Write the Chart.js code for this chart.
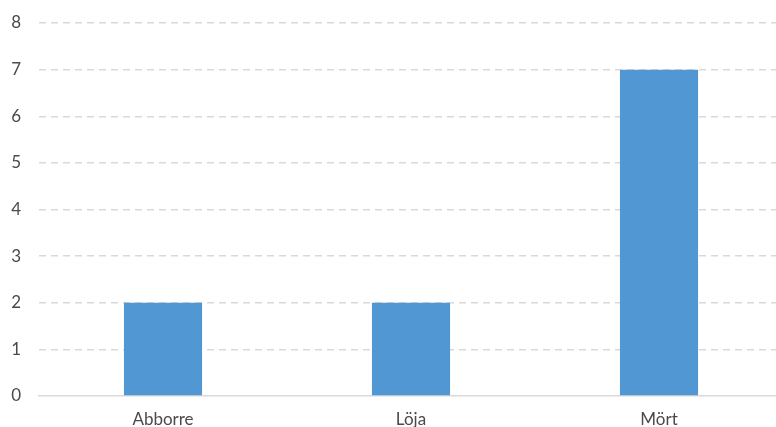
<!DOCTYPE html>
<html>
<head>
<meta charset="utf-8">
<script src="https://cdn.jsdelivr.net/npm/chart.js@4/dist/chart.umd.min.js"></script>
<style>
  html, body { margin: 0; padding: 0; background: #fff; overflow: hidden; }
  #wrap { width: 776px; height: 427px; overflow: hidden; }
</style>
</head>
<body>
<div id="wrap"><canvas id="c" width="787" height="427"></canvas></div>
<script>
const categories = ['Abborre', 'Löja', 'Mört'];
const counts = [2, 2, 7];
const yTicks = [0, 1, 2, 3, 4, 5, 6, 7, 8];

const textColor = '#4a4a4a';
const gridColor = '#d9d9d9';
const labelFont = { family: "Lato, 'Open Sans', sans-serif", size: 17 };

new Chart(document.getElementById('c'), {
  type: 'bar',
  data: {
    labels: categories,
    datasets: [{
      data: counts,
      backgroundColor: '#5197d3',
      borderWidth: 0,
      categoryPercentage: 1,
      barPercentage: 0.315
    }]
  },
  options: {
    responsive: false,
    maintainAspectRatio: false,
    animation: false,
    layout: { padding: { left: 10, right: 4, top: 0, bottom: 0 } },
    plugins: { legend: { display: false }, tooltip: { enabled: false } },
    scales: {
      x: {
        afterFit: (axis) => { axis.height = 31; },
        grid: { display: false, drawTicks: false },
        border: { display: true, color: gridColor, width: 1.5 },
        ticks: { color: textColor, font: labelFont, padding: 13 }
      },
      y: {
        min: 0,
        max: 8,
        afterBuildTicks: (axis) => { axis.ticks = yTicks.map(v => ({ value: v })); },
        afterFit: (axis) => { axis.width = 29; axis.paddingTop = 23; axis.paddingBottom = 0; },
        grid: {
          drawTicks: false,
          lineWidth: 1.5,
          color: (ctx) => (ctx.tick && ctx.tick.value === 0) ? 'rgba(0,0,0,0)' : gridColor
        },
        border: { display: false, dash: [7, 5] },
        ticks: { color: textColor, font: labelFont, padding: 18 }
      }
    }
  }
});
</script>
</body>
</html>
